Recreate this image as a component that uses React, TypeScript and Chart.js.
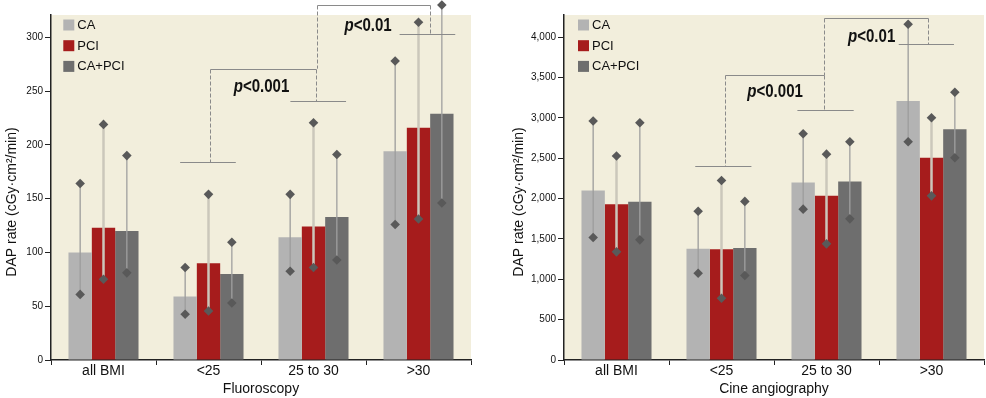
import { useEffect, useRef } from 'react';
import { Chart, registerables } from 'chart.js';
Chart.register(...registerables);

const FONT = "'Liberation Sans', Arial, sans-serif";

// ---------- data ----------
const categories = ['all BMI', '<25', '25 to 30', '>30'];
const seriesNames = ['CA', 'PCI', 'CA+PCI'];

// Fluoroscopy (cGy·cm²/min)
const fluoroTicks = [0, 50, 100, 150, 200, 250, 300];
const fluoroCA = [100, 59, 114, 194];
const fluoroPCI = [123, 90, 124, 216];
const fluoroCAPCI = [120, 80, 133, 229];
const fluoroCALow = [61, 42.5, 82.5, 126];
const fluoroCAHigh = [164, 86, 154, 278];
const fluoroPCILow = [75, 45.5, 86, 131];
const fluoroPCIHigh = [219, 154, 220.5, 314];
const fluoroCAPCILow = [81, 53, 93, 146];
const fluoroCAPCIHigh = [190, 109.5, 191, 330];

// Cine angiography (cGy·cm²/min)
const cineTicks = [0, 500, 1000, 1500, 2000, 2500, 3000, 3500, 4000];
const cineCA = [2100, 1377, 2200, 3209];
const cinePCI = [1931, 1373, 2034, 2506];
const cineCAPCI = [1960, 1389, 2213, 2858];
const cineCALow = [1518, 1075, 1869, 2704];
const cineCAHigh = [2961, 1844, 2803, 4160];
const cinePCILow = [1340, 765, 1439, 2034];
const cinePCIHigh = [2527, 2225, 2551, 3002];
const cineCAPCILow = [1489, 1047, 1749, 2506];
const cineCAPCIHigh = [2940, 1965, 2704, 3317];

// significance brackets, in data units (x = category index, y = value)
const fluoroBrackets = [
  { base: [[0.73, 1.26, 183.7], [1.78, 2.31, 240.7]], drops: [[1.01, 183.7], [2.02, 240.7]], top: 270.8, label: '<0.001', labelX: 1.505, labelY: 253.5 },
  { base: [[2.82, 3.35, 303.1]], drops: [[2.036, 270.8], [3.11, 303.1]], top: 329.8, label: '<0.01', labelX: 2.52, labelY: 309.9 },
];
const cineBrackets = [
  { base: [[0.75, 1.285, 2403], [1.723, 2.259, 3097]], drops: [[1.037, 2403], [1.973, 3097]], top: 3528, label: '<0.001', labelX: 1.51, labelY: 3321 },
  { base: [[2.688, 3.214, 3912]], drops: [[1.973, 3528], [2.967, 3912]], top: 4235, label: '<0.01', labelX: 2.43, labelY: 4006 },
];

const colors = ['#b3b3b3', '#a61c1c', '#6e6e6e'];
const whiskerColors = ['#9c9c9c', '#cbc7bb', '#a0a0a0'];
const whiskerWidths = [1.3, 2.5, 1.3];

type Spec = {
  title: string;
  values: number[][];
  lows: number[][];
  highs: number[][];
  max: number;
  ticks: number[];
  brackets: any[];
  yWidth: number;
  padRight: number;
  yTitleX: number;
  legendOffset: number;
};

const decorPlugin = {
  id: 'decor',
  beforeDraw(chart: any) {
    const { ctx, chartArea: a } = chart;
    ctx.save();
    ctx.fillStyle = '#f2eedc';
    ctx.fillRect(a.left, a.top, a.right - a.left, a.bottom - a.top);
    ctx.restore();
  },
  afterDatasetsDraw(chart: any) {
    const spec: Spec = chart.options.plugins.decor.spec;
    const { ctx, chartArea: a } = chart;
    const xs = chart.scales.x;
    const ys = chart.scales.y;
    ctx.save();
    // whiskers
    const pts: [number, number][] = [];
    chart.data.datasets.forEach((ds: any, i: number) => {
      const meta = chart.getDatasetMeta(i);
      meta.data.forEach((el: any, j: number) => {
        const yl = ys.getPixelForValue(spec.lows[i][j]);
        const yh = ys.getPixelForValue(spec.highs[i][j]);
        ctx.strokeStyle = whiskerColors[i];
        ctx.lineWidth = whiskerWidths[i];
        ctx.beginPath();
        ctx.moveTo(el.x, yl);
        ctx.lineTo(el.x, yh);
        ctx.stroke();
        pts.push([el.x, yl], [el.x, yh]);
      });
    });
    ctx.fillStyle = '#595959';
    const r = 4.8;
    pts.forEach(([x, y]) => {
      ctx.beginPath();
      ctx.moveTo(x, y - r);
      ctx.lineTo(x + r, y);
      ctx.lineTo(x, y + r);
      ctx.lineTo(x - r, y);
      ctx.closePath();
      ctx.fill();
    });

    // brackets
    ctx.strokeStyle = '#8a8a8a';
    ctx.lineWidth = 1;
    spec.brackets.forEach((b: any) => {
      ctx.setLineDash([]);
      b.base.forEach(([x0, x1, y]: number[]) => {
        const py = Math.round(ys.getPixelForValue(y)) + 0.5;
        ctx.beginPath();
        ctx.moveTo(xs.getPixelForValue(x0), py);
        ctx.lineTo(xs.getPixelForValue(x1), py);
        ctx.stroke();
      });
      const ty = Math.round(ys.getPixelForValue(b.top)) + 0.5;
      const dx = b.drops.map((d: number[]) => Math.round(xs.getPixelForValue(d[0])) + 0.5);
      ctx.beginPath();
      ctx.moveTo(dx[0], ty);
      ctx.lineTo(dx[1], ty);
      ctx.stroke();
      ctx.setLineDash([4, 2]);
      b.drops.forEach((d: number[], k: number) => {
        ctx.beginPath();
        ctx.moveTo(dx[k], ty);
        ctx.lineTo(dx[k], ys.getPixelForValue(d[1]));
        ctx.stroke();
      });
      ctx.setLineDash([]);
      // label (condensed bold, italic p)
      const cx = xs.getPixelForValue(b.labelX);
      const cy = ys.getPixelForValue(b.labelY);
      const sxScale = 0.86;
      ctx.save();
      ctx.translate(cx, cy);
      ctx.scale(sxScale, 1);
      ctx.fillStyle = '#111';
      ctx.textBaseline = 'middle';
      ctx.textAlign = 'left';
      ctx.font = `italic bold 17.5px ${FONT}`;
      const wp = ctx.measureText('p').width;
      ctx.font = `bold 17.5px ${FONT}`;
      const wr = ctx.measureText(b.label).width;
      const sx = -(wp + wr) / 2;
      ctx.font = `italic bold 17.5px ${FONT}`;
      ctx.fillText('p', sx, 0);
      ctx.font = `bold 17.5px ${FONT}`;
      ctx.fillText(b.label, sx + wp, 0);
      ctx.restore();
    });

    // legend
    chart.data.datasets.forEach((ds: any, i: number) => {
      const cy = a.top + 10 + i * 20.7;
      const lx = a.left + spec.legendOffset;
      ctx.fillStyle = ds.backgroundColor;
      ctx.fillRect(lx, cy - 5.5, 11, 11);
      ctx.fillStyle = '#111';
      ctx.font = `13px ${FONT}`;
      ctx.textBaseline = 'middle';
      ctx.textAlign = 'left';
      ctx.fillText(ds.label, lx + 14, cy + 0.5);
    });

    // y title
    ctx.translate(spec.yTitleX, 202);
    ctx.rotate(-Math.PI / 2);
    ctx.font = `14px ${FONT}`;
    ctx.textAlign = 'center';
    ctx.textBaseline = 'middle';
    ctx.fillStyle = '#111';
    ctx.fillText('DAP rate (cGy·cm²/min)', 0, 0);
    ctx.restore();
  },
};

function makeConfig(spec: Spec): any {
  return {
    type: 'bar',
    data: {
      labels: categories,
      datasets: spec.values.map((v, i) => ({
        label: seriesNames[i],
        data: v,
        backgroundColor: colors[i],
        borderWidth: 0,
        barPercentage: 1,
        categoryPercentage: 0.667,
      })),
    },
    options: {
      responsive: false,
      animation: false,
      devicePixelRatio: 1,
      layout: { padding: { top: 15, right: spec.padRight, left: 0, bottom: 0 } },
      plugins: {
        legend: { display: false },
        tooltip: { enabled: false },
        decor: { spec },
      },
      scales: {
        x: {
          type: 'category',
          offset: true,
          grid: { offset: true, drawOnChartArea: false, drawTicks: true, tickLength: 5, color: '#222', lineWidth: 1 },
          border: { display: true, color: '#222', width: 1.5 },
          ticks: { font: { size: 14, family: FONT }, color: '#111', padding: -2, maxRotation: 0 },
          title: { display: true, text: spec.title, font: { size: 14, family: FONT }, color: '#111', padding: { top: 0, bottom: 0.5 } },
          afterFit: (s: any) => { s.height = 38; },
        },
        y: {
          min: 0,
          max: spec.max,
          grid: { drawOnChartArea: false, drawTicks: true, tickLength: 6, color: '#222', lineWidth: 1 },
          border: { display: true, color: '#222', width: 1.5 },
          afterBuildTicks: (s: any) => { s.ticks = spec.ticks.map((v) => ({ value: v })); },
          ticks: {
            font: { size: 10, family: FONT },
            color: '#111',
            padding: 2,
            callback: (v: number) => v.toLocaleString('en-US'),
          },
          afterFit: (s: any) => { s.width = spec.yWidth; },
        },
      },
    },
    plugins: [decorPlugin],
  };
}

function ChartBox({ spec, left }: { spec: Spec; left: number }) {
  const ref = useRef<HTMLCanvasElement>(null);
  useEffect(() => {
    const chart = new Chart(ref.current as HTMLCanvasElement, makeConfig(spec));
    return () => chart.destroy();
  }, [spec]);
  return (
    <canvas
      ref={ref}
      width={493}
      height={398}
      style={{ position: 'absolute', left, top: 0, width: 493, height: 398 }}
    />
  );
}

const fluoroSpec: Spec = {
  title: 'Fluoroscopy',
  values: [fluoroCA, fluoroPCI, fluoroCAPCI],
  lows: [fluoroCALow, fluoroPCILow, fluoroCAPCILow],
  highs: [fluoroCAHigh, fluoroPCIHigh, fluoroCAPCIHigh],
  max: 320.7,
  ticks: fluoroTicks,
  brackets: fluoroBrackets,
  yWidth: 51,
  padRight: 22,
  yTitleX: 12.5,
  legendOffset: 12.3,
};

const cineSpec: Spec = {
  title: 'Cine angiography',
  values: [cineCA, cinePCI, cineCAPCI],
  lows: [cineCALow, cinePCILow, cineCAPCILow],
  highs: [cineCAHigh, cinePCIHigh, cineCAPCIHigh],
  max: 4275,
  ticks: cineTicks,
  brackets: cineBrackets,
  yWidth: 71,
  padRight: 2,
  yTitleX: 26,
  legendOffset: 14,
};

export default function App() {
  return (
    <div style={{ position: 'absolute', left: 0, top: 0, width: 986, height: 398, background: '#fff', overflow: 'hidden' }}>
      <ChartBox spec={fluoroSpec} left={0} />
      <ChartBox spec={cineSpec} left={493} />
    </div>
  );
}
